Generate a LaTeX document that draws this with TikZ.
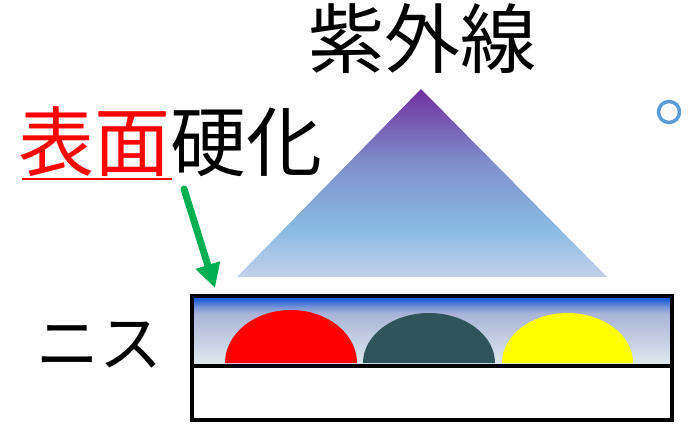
\documentclass[tikz,border=0pt]{standalone}
\usepackage{fontspec}
\setmainfont{Noto Sans CJK JP}
\usetikzlibrary{arrows.meta}
\definecolor{uvtop}{HTML}{7030A0}
\definecolor{uvmid}{HTML}{8090CC}
\definecolor{uvlow}{HTML}{88BAE2}
\definecolor{uvbot}{HTML}{C4D0EA}
\definecolor{vtop}{HTML}{1F5FD6}
\definecolor{vmid}{HTML}{AAB4D8}
\definecolor{vbot}{HTML}{DDE8EE}
\definecolor{arrowgreen}{HTML}{00B050}
\definecolor{slate}{HTML}{2F5459}
\definecolor{ringblue}{HTML}{5B9BD5}
\definecolor{dropyellow}{HTML}{FFFF00}
\pgfdeclareverticalshading{uvshade}{100bp}{color(0bp)=(uvbot); color(25bp)=(uvbot); color(38bp)=(uvlow); color(55bp)=(uvmid); color(75bp)=(uvtop); color(100bp)=(uvtop)}
\pgfdeclareverticalshading{varnishshade}{100bp}{color(0bp)=(vbot); color(25bp)=(vbot); color(61bp)=(vmid); color(66bp)=(vmid!60!vtop); color(71bp)=(vtop); color(100bp)=(vtop)}
\tikzset{
  bigtext/.style={font=\fontsize{76}{84}\selectfont, inner sep=0pt, anchor=base},
  midtext/.style={font=\fontsize{63}{70}\selectfont, inner sep=0pt, anchor=base west},
  layerbox/.style={draw=black, line width=4pt},
  pointer/.style={draw=arrowgreen, line width=7pt, line cap=round, -{Triangle[length=24pt,width=24pt]}},
}
\begin{document}
\begin{tikzpicture}[x=1pt,y=-1pt]
\useasboundingbox (0,0) rectangle (689,424);
% UV triangle
\path[shading=uvshade] (421,89) -- (607,277) -- (237,277) -- cycle;
% varnish layer gradient
\path[shading=varnishshade] (190,294) rectangle (670,364);
% drops (half ellipses)
\fill[red] (225,363) arc[start angle=180,end angle=360,x radius=66,y radius=53] -- cycle;
\fill[slate] (363,363) arc[start angle=180,end angle=360,x radius=66,y radius=50] -- cycle;
\fill[dropyellow] (502,363) arc[start angle=180,end angle=360,x radius=65.5,y radius=50] -- cycle;
% boxes
\node[layerbox, minimum width=480pt, minimum height=70pt, inner sep=0pt, anchor=north west] (varnish) at (190,294) {};
\node[layerbox, fill=white, minimum width=480pt, minimum height=54pt, inner sep=0pt, anchor=north west] (base) at (190,364) {};
% texts
\node[bigtext] (uv) at (422,67) {紫外線};
\node[bigtext, anchor=base west] (surf) at (18,170) {\textcolor{red}{表面}硬化};
\draw[red, line width=2pt] (22,179) -- (172,179);
\node[midtext] (nisu) at (36,366) {ニス};
% arrow
\coordinate (arrstart) at (184,189);
\coordinate (arrend) at (215,288);
\draw[pointer] (arrstart) -- (arrend);
% small ring
\draw[ringblue, line width=3.5pt] (669,112) circle[radius=10.5];
\end{tikzpicture}
\end{document}
